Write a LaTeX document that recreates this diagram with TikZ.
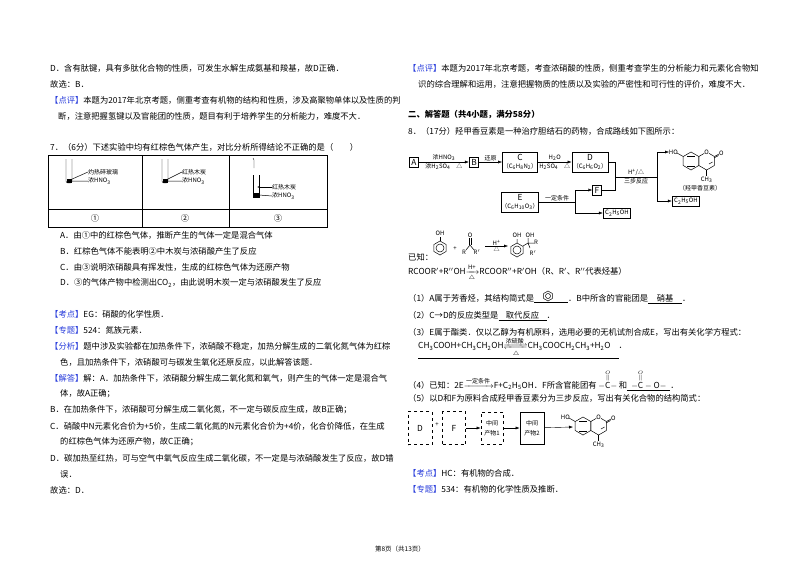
\documentclass[tikz,border=0pt]{standalone}
\usepackage{amsmath,mathtools}
\usepackage{fontspec}
\setmainfont{Noto Sans CJK SC}
\usetikzlibrary{arrows.meta}
\definecolor{tagc}{RGB}{40,60,220}
\newcommand\fs{\fontsize{8.3}{10}\selectfont}
\newcommand\sm{\fontsize{6}{7}\selectfont}
\newcommand\tg[1]{\textcolor{tagc}{【#1】}}
\newcommand\sub[1]{\textsubscript{#1}}
\tikzset{txt/.style={anchor=west,inner sep=0pt,font=\fs},
 ctr/.style={inner sep=0pt,font=\fs},
 small/.style={inner sep=0pt,font=\sm},
 boxn/.style={draw,thick,inner sep=2pt,font=\fs},
 arr/.style={-{Latex[length=4pt,width=3pt]}},
 bond/.style={line width=0.5pt}}
\newcommand\hexa[3]{% center x,y, r
 \draw[bond] (#1+0,#2-#3)--(#1+0.866*#3,#2-0.5*#3)--(#1+0.866*#3,#2+0.5*#3)--(#1+0,#2+#3)--(#1-0.866*#3,#2+0.5*#3)--(#1-0.866*#3,#2-0.5*#3)--cycle;}
\newcommand\coum[3]{% x y name
 \begin{scope}[shift={(#1,#2)}]
 \hexa{0}{0}{9}\hexa{15.6}{0}{9}
 \draw[bond] (-4,-5)--(4,-5) (-4,5)--(4,5);
 \draw[bond] (-7.8,-4.5)--(-14,-8);
 \node[small,anchor=east] (#3ho) at (-13,-9) {HO};
 \fill[white] (15.6,-9) circle (2.8);
 \node[small] (#3o) at (15.6,-9) {O};
 \draw[bond] (23.4,-4.5)--(28,-7) (23,-3)--(27.6,-5.5);
 \node[small,anchor=west] (#3oo) at (28,-8) {O};
 \draw[bond] (15.6,9)--(15.6,15);
 \node[small] (#3me) at (15.6,19) {CH\sub{3}};
 \draw[bond] (18,3)--(21.5,1);
 \end{scope}}
\begin{document}
\begin{tikzpicture}[x=1pt,y=-1pt]
\useasboundingbox[fill=white] (0,0) rectangle (800,565);
% ---------- left column
\node[txt] (l1) at (50,68) {D．含有肽键，具有多肽化合物的性质，可发生水解生成氨基和羧基，故D正确．};
\node[txt] (l2) at (50,84) {故选：B．};
\node[txt] (l3) at (50,100) {\tg{点评}本题为2017年北京考题，侧重考查有机物的结构和性质，涉及高聚物单体以及性质的判};
\node[txt] (l4) at (58,116) {断，注意把握氢键以及官能团的性质，题目有利于培养学生的分析能力，难度不大．};
\node[txt] (l5) at (50,147) {7．（6分）下述实验中均有红棕色气体产生，对比分析所得结论不正确的是（　　）};
\draw[line width=0.5pt] (48,155) rectangle (327,227) (48,209)--(327,209) (142,155)--(142,227) (229,155)--(229,227);
\node[ctr] (c1) at (95,218) {①};
\node[ctr] (c2) at (185,218) {②};
\node[ctr] (c3) at (278,218) {③};
% tubes
\draw[rounded corners=2] (66,159)--(66,183)--(72,183)--(72,159);
\fill (66.5,179) rectangle (71.5,182.5);
\node[small,anchor=west] (e1a) at (88,172) {灼热碎玻璃};
\node[small,anchor=west] (e1b) at (88,181) {浓HNO\sub{3}};
\draw[bond] (70,180)--(e1a.west) (72,181)--(e1b.west);
\draw[rounded corners=2] (162,159)--(162,183)--(168,183)--(168,159);
\fill (162.5,179) rectangle (167.5,182.5);
\node[small,anchor=west] (e2a) at (182,172) {红热木炭};
\node[small,anchor=west] (e2b) at (182,181) {浓HNO\sub{3}};
\draw[bond] (166,180)--(e2a.west) (168,181)--(e2b.west);
\draw (253,175)--(253,197)--(259,197)--(259,175);
\draw (254,168)--(254,160)--(253,158);
\fill (253.5,193) rectangle (258.5,196.5);
\node[small,anchor=west] (e3a) at (272,187) {红热木炭};
\node[small,anchor=west] (e3b) at (272,196) {浓HNO\sub{3}};
\draw[bond,-{Latex[length=2pt]}] (e3a.west)--(257,187);
\draw[bond] (259,195)--(e3b.west);
\node[txt] (la) at (60,235) {A．由①中的红棕色气体，推断产生的气体一定是混合气体};
\node[txt] (lb) at (60,251) {B．红棕色气体不能表明②中木炭与浓硝酸产生了反应};
\node[txt] (lc) at (60,267) {C．由③说明浓硝酸具有挥发性，生成的红棕色气体为还原产物};
\node[txt] (ld) at (60,283) {D．③的气体产物中检测出CO\sub{2}，由此说明木炭一定与浓硝酸发生了反应};
\node[txt] (k1) at (50,314) {\tg{考点}EG：硝酸的化学性质．};
\node[txt] (k2) at (50,330) {\tg{专题}524：氮族元素．};
\node[txt] (k3) at (50,346) {\tg{分析}题中涉及实验都在加热条件下，浓硝酸不稳定，加热分解生成的二氧化氮气体为红棕};
\node[txt] (k4) at (60,362) {色，且加热条件下，浓硝酸可与碳发生氧化还原反应，以此解答该题．};
\node[txt] (k5) at (50,378) {\tg{解答}解：A．加热条件下，浓硝酸分解生成二氧化氮和氧气，则产生的气体一定是混合气};
\node[txt] (k6) at (60,394) {体，故A正确；};
\node[txt] (k7) at (50,410) {B．在加热条件下，浓硝酸可分解生成二氧化氮，不一定与碳反应生成，故B正确；};
\node[txt] (k8) at (50,426) {C．硝酸中N元素化合价为+5价，生成二氧化氮的N元素化合价为+4价，化合价降低，在生成};
\node[txt] (k9) at (60,442) {的红棕色气体为还原产物，故C正确；};
\node[txt] (k10) at (50,458) {D．碳加热至红热，可与空气中氧气反应生成二氧化碳，不一定是与浓硝酸发生了反应，故D错};
\node[txt] (k11) at (60,474) {误．};
\node[txt] (k12) at (50,490) {故选：D．};
\node[small,font=\fontsize{6.5}{7}\selectfont] (foot) at (400,549) {第8页（共13页）};
% ---------- right column
\node[txt] (r1) at (408,68) {\tg{点评}本题为2017年北京考题，考查浓硝酸的性质，侧重考查学生的分析能力和元素化合物知};
\node[txt] (r2) at (418,84) {识的综合理解和运用，注意把握物质的性质以及实验的严密性和可行性的评价，难度不大．};
\node[txt,font=\fs\bfseries] (r3) at (408,115) {二、解答题（共4小题，满分58分）};
\node[txt] (r4) at (408,131) {8．（17分）羟甲香豆素是一种治疗胆结石的药物，合成路线如下图所示：};
% scheme
\node[boxn] (A) at (414,162) {A};
\node[boxn] (B) at (474,162) {B};
\node[draw,thick,minimum width=35pt,minimum height=20pt,inner sep=0pt,align=center,font=\fs] (C) at (520,162) {C\\[-2pt]{\sm（C\sub{6}H\sub{8}N\sub{2}）}};
\node[draw,thick,minimum width=36pt,minimum height=20pt,inner sep=0pt,align=center,font=\fs] (D) at (590,162) {D\\[-2pt]{\sm（C\sub{6}H\sub{6}O\sub{2}）}};
\node[draw,thick,minimum width=35pt,minimum height=20pt,inner sep=0pt,align=center,font=\fs] (E) at (520,202) {E\\[-2pt]{\sm（C\sub{6}H\sub{10}O\sub{3}）}};
\node[boxn] (F) at (597,190) {F};
\node[draw,thick,inner sep=2pt,font=\sm] (G1) at (617,213) {C\sub{2}H\sub{5}OH};
\node[draw,thick,inner sep=2pt,font=\sm] (G2) at (686,201) {C\sub{2}H\sub{5}OH};
\draw[arr] (A)--(B) node[midway,above=1pt,small] (n1) {浓HNO\sub{3}} node[midway,below=1pt,small] (n2) {浓H\sub{2}SO\sub{4}　△};
\draw[arr] (B)--(C) node[midway,above=1pt,small] (n3) {还原};
\draw[arr] (C)--(D) node[midway,above=1pt,small] (n4) {H\sub{2}O} node[midway,below=1pt,small] (n5) {H\sub{2}SO\sub{4}　△};
\coordinate (j1) at (615,177);
\coordinate (j2) at (657,177);
\coordinate (j3) at (575,202);
\draw (D.east)-|(j1) (F.east)-|(j1) (j1)--(j2) node[midway,above=1pt,small] (n6) {H\textsuperscript{+}/△} node[midway,below=1pt,small] (n7) {三步反应};
\draw[arr] (j2)|-(669,152);
\draw[arr] (j2)|-(G2.west);
\draw (E.east)--(j3) node[midway,above=1pt,small] (n8) {一定条件};
\draw[arr] (j3)|-(F.west);
\draw[arr] (j3)|-(G1.west);
\coum{691}{161}{cm}
\node[small] (cmn) at (700,188) {（羟甲香豆素）};
% known
\node[txt] (kn) at (408,257) {已知：};
\hexa{440}{248}{7}\draw[bond] (440,248) circle (4);
\draw[bond] (440,241)--(440,237);\node[small] (oh1) at (440,233) {OH};
\node[small] (pl) at (455,249) {+};
\node[small] (ko) at (470,235) {O};
\draw[bond] (469.5,238)--(469.5,245) (471,238)--(471,245);
\node[small] (kr) at (464,252) {R};\node[small] (kr2) at (477,252) {R$'$};
\draw[bond] (466,250)--(470,245)--(474,250);
\coordinate (ka) at (485,246); \coordinate (kb) at (508,246);
\draw[arr] (ka)--(kb) node[midway,above=0pt,small] (kh) {H\textsuperscript{+}} node[midway,below=0pt,small] (kd) {△};
\hexa{517}{250}{7}\draw[bond] (517,250) circle (4);
\draw[bond] (517,243)--(517,239) (523,246)--(528,243);
\node[small] (oh2) at (517,235) {OH}; \node[small] (oh3) at (530,235) {OH};
\draw[bond] (528,243)--(528,238) (528,243)--(534,243) (528,243)--(530,248);
\node[small,anchor=west] (pr) at (534,242) {R}; \node[small] (pr2) at (533,253) {R$'$};
\node[txt] (rc) at (408,273) {RCOOR$'$+R$''$OH$\xrightarrow[\triangle]{\text{\sm H+}}$RCOOR$''$+R$'$OH（R、R$'$、R$''$代表烃基）};
\node[txt] (q1) at (408,299) {（1）A属于芳香烃，其结构简式是\underline{\makebox[34pt]{}}．B中所含的官能团是\underline{\makebox[34pt]{硝基}}．};
\hexa{548}{296}{5}\draw[bond] (548,296) circle (2.5);
\node[txt] (q2) at (408,316) {（2）C→D的反应类型是\underline{\makebox[48pt]{取代反应}}．};
\node[txt] (q3) at (408,332) {（3）E属于酯类．仅以乙醇为有机原料，选用必要的无机试剂合成E，写出有关化学方程式：};
\node[txt] (q4) at (418,348) {\underline{CH\sub{3}COOH+CH\sub{3}CH\sub{2}OH$\xrightleftharpoons[\triangle]{\text{\sm 浓硫酸}}$CH\sub{3}COOCH\sub{2}CH\sub{3}+H\sub{2}O\hspace{8pt}}．};
\node[txt] (q5) at (408,380) {（4）已知：2E$\xrightarrow{\text{\sm 一定条件}}$F+C\sub{2}H\sub{5}OH．F所含官能团有 $-\overset{\overset{\scriptscriptstyle O}{\|}}{\mathrm{C}}-$ 和\underline{\hspace{4pt}$-\overset{\overset{\scriptscriptstyle O}{\|}}{\mathrm{C}}-\mathrm{O}-$\hspace{4pt}}．};
\node[txt] (q6) at (408,398) {（5）以D和F为原料合成羟甲香豆素分为三步反应，写出有关化合物的结构简式：};
\node[draw,thick,dashed,minimum width=24pt,minimum height=33pt,font=\fs] (bD) at (420,428) {D};
\node[small] (bp) at (437,425) {+};
\node[draw,thick,dashed,minimum width=23pt,minimum height=33pt,font=\fs] (bF) at (454,428) {F};
\node[draw,thick,dashed,minimum width=21pt,minimum height=32pt,align=center,font=\sm] (bM1) at (492,428) {中间\\[3pt]产物1};
\node[draw,thick,minimum width=24pt,minimum height=32pt,align=center,font=\sm] (bM2) at (532,428) {中间\\[3pt]产物2};
\draw[arr] (bF)--(bM1);
\draw[arr] (bM1)--(bM2);
\coordinate (cf) at (573,427);
\draw[arr] (bM2)--(cf);
\coum{583}{426}{cn}
\node[txt] (s1) at (408,473) {\tg{考点}HC：有机物的合成．};
\node[txt] (s2) at (408,489) {\tg{专题}534：有机物的化学性质及推断．};
\end{tikzpicture}
\end{document}
